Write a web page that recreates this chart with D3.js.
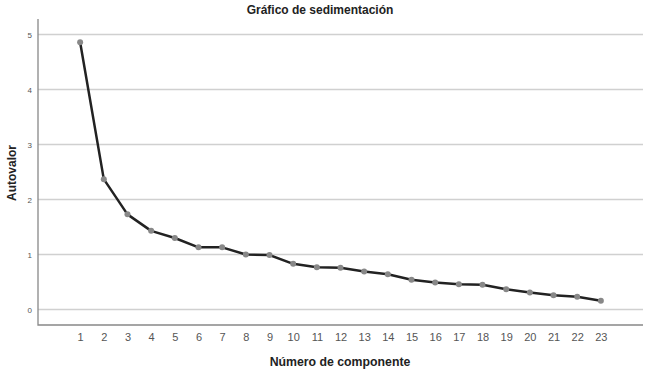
<!DOCTYPE html>
<html><head><meta charset="utf-8">
<script src="https://cdn.jsdelivr.net/npm/d3@7"></script>
<style>body{margin:0;background:#fff}svg{display:block}text{font-family:"Liberation Sans",Arial,sans-serif}</style>
</head><body>
<svg id="c" width="650" height="371"></svg>
<script>
const components = d3.range(1, 24);
const eigenvalues = [4.86,2.37,1.73,1.43,1.30,1.13,1.13,1.00,0.99,0.83,0.77,0.76,0.69,0.64,0.54,0.49,0.46,0.45,0.37,0.31,0.26,0.23,0.16];
const yTicks = [0,1,2,3,4,5];
const title = "Gráfico de sedimentación";
const xTitle = "Número de componente";
const yTitle = "Autovalor";

const svg = d3.select("#c");
const L = 38, R = 643, T = 19, B = 325;
const x = d3.scalePoint().domain(components).range([L, R]).padding(1.78);
const y = d3.scaleLinear().domain([0, 5]).range([309.5, 34.5]);

// gridlines
svg.append("g").selectAll("line").data(yTicks).join("line")
  .attr("x1", L).attr("x2", R).attr("y1", d => y(d)).attr("y2", d => y(d))
  .attr("stroke", "#d0d0d0").attr("stroke-width", 1.3);

// axes
const yAxis = svg.append("g").attr("transform", `translate(${L},0)`)
  .call(d3.axisLeft(y).tickValues(yTicks).tickFormat(d3.format("d")).tickSize(0).tickPadding(6));
yAxis.select(".domain").remove();
yAxis.selectAll("text").attr("font-size", 8).attr("fill", "#555").style("font-family","'Liberation Sans',Arial,sans-serif");

const xAxis = svg.append("g").attr("transform", `translate(0,${B})`)
  .call(d3.axisBottom(x).tickSize(0).tickPadding(8));
xAxis.select(".domain").remove();
xAxis.selectAll("text").attr("font-size", 11).attr("fill", "#555").style("font-family","'Liberation Sans',Arial,sans-serif");

svg.append("path").attr("d", `M${L},${T}V${B}H${R}`).attr("fill","none").attr("stroke","#888").attr("stroke-width",1.3);

// line
svg.append("path").datum(eigenvalues.map((v,i)=>[components[i], v]))
  .attr("d", d3.line().x(d => x(d[0])).y(d => y(d[1])))
  .attr("fill","none").attr("stroke","#222").attr("stroke-width",2.5).attr("stroke-linejoin","round");

svg.append("g").selectAll("circle").data(eigenvalues).join("circle")
  .attr("cx", (d,i) => x(components[i])).attr("cy", d => y(d)).attr("r", 3)
  .attr("fill", "#888");

svg.append("text").attr("x", 320).attr("y", 14).attr("text-anchor","middle")
  .attr("font-size", 12).attr("font-weight","bold").attr("fill","#222").text(title);
svg.append("text").attr("x", 340).attr("y", 366).attr("text-anchor","middle")
  .attr("font-size", 12.3).attr("font-weight","bold").attr("fill","#222").text(xTitle);
svg.append("text").attr("transform","translate(16,173) rotate(-90)").attr("text-anchor","middle")
  .attr("font-size", 12).attr("font-weight","bold").attr("fill","#222").text(yTitle);
</script>
</body></html>
